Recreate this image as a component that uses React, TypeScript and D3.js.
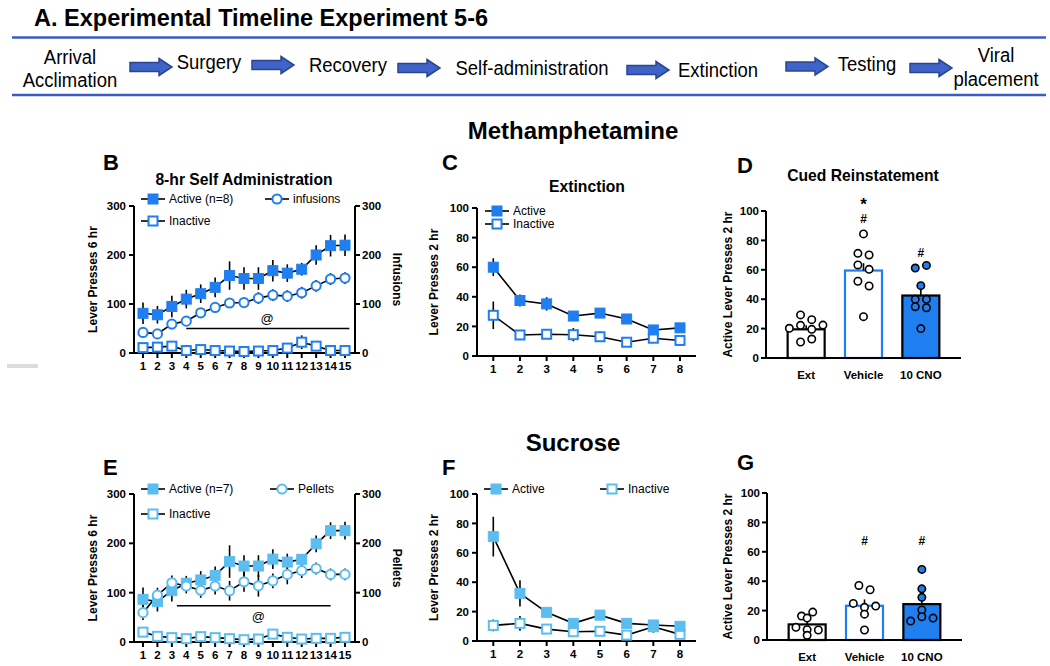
import React from "react";
import * as d3 from "d3";

const FONT = "'Liberation Sans', Arial, Helvetica, sans-serif";
const METH = "#1f7ef0";
const SUC = "#5bbdf0";
const LINE_BLUE = "#3a5cc5";

// ---------- data ----------
const timelineSteps = [["Arrival", "Acclimation"], ["Surgery"], ["Recovery"], ["Self-administration"], ["Extinction"], ["Testing"], ["Viral", "placement"]];

const saDays = [1, 2, 3, 4, 5, 6, 7, 8, 9, 10, 11, 12, 13, 14, 15];
const extDays = [1, 2, 3, 4, 5, 6, 7, 8];
const ticks300 = [0, 100, 200, 300];
const ticks100 = [0, 20, 40, 60, 80, 100];
const groupNames = ["Ext", "Vehicle", "10 CNO"];

// Methamphetamine self-administration
const methActive = [81, 78, 95, 110, 121, 134, 158, 152, 152, 168, 163, 171, 200, 219, 220];
const methActiveErr = [22, 18, 22, 19, 19, 20, 29, 23, 23, 22, 18, 13, 20, 22, 22];
const methInfusions = [42, 39, 59, 65, 82, 93, 102, 103, 112, 118, 116, 123, 137, 151, 153];
const methInfusionsErr = [6, 6, 8, 8, 10, 10, 10, 10, 12, 12, 12, 12, 12, 12, 12];
const methInactive = [11, 12, 14, 5, 7, 5, 4, 3, 4, 5, 10, 22, 14, 5, 5];
const methInactiveErr = [3, 3, 3, 3, 3, 3, 3, 3, 3, 3, 4, 14, 4, 3, 3];
const methAtLine = { from: 4, to: 15.3, level: 50, labelDay: 9.6 };

// Methamphetamine extinction
const methExtActive = [60, 37.5, 35.2, 27, 29, 25, 17.6, 19];
const methExtActiveErr = [6, 4, 4.5, 3, 2, 2, 2, 2];
const methExtInactive = [27.5, 14.2, 14.7, 14.4, 13, 9.3, 12, 10.5];
const methExtInactiveErr = [9.3, 2, 2, 4.5, 3.5, 3, 2, 2];

// Methamphetamine cued reinstatement
const methRExt = [29.3, 26.1, 20.2, 22.2, 19.5, 22.4, 10.9, 12.9];
const methRVeh = [84.4, 71.2, 70.1, 63.3, 60.3, 52.2, 49, 28.1];
const methRCno = [61.2, 63, 49.2, 39.9, 39.9, 34.9, 34.2, 20];
const methRMeans = [19.5, 59.5, 42.5];
const methRSem = [2.7, 5, 6];
const methRStar = ["", "*", ""];
const methRStarLevel = 106;
const methRHash = ["", "#", "#"];
const methRHashLevel = [0, 94.5, 71.4];

// Sucrose self-administration
const sucActive = [86.5, 81.8, 104, 119, 125.7, 135, 163, 154, 154, 168, 162, 167.6, 199, 225.7, 225.7];
const sucActiveErr = [24, 20, 22, 15, 18, 18, 33, 22, 22, 20, 17, 10, 17, 17, 18];
const sucPellets = [59.5, 95, 120, 113.5, 104.7, 113.5, 104, 122, 114, 124, 137, 144.6, 149, 137, 137];
const sucPelletsErr = [15, 15, 15, 15, 15, 17, 20, 20, 22, 15, 20, 15, 12, 12, 12];
const sucInactive = [20, 11.5, 8.8, 6.8, 10.8, 8.8, 6.8, 4.7, 6, 16, 9.5, 6, 7.4, 7.4, 9.5];
const sucInactiveErr = [3, 3, 3, 3, 3, 3, 3, 3, 3, 4, 3, 3, 3, 3, 3];
const sucAtLine = { from: 3.35, to: 14, level: 73.6, labelDay: 9 };

// Sucrose extinction
const sucExtActive = [71, 32.4, 19.5, 12, 17.6, 12, 10.9, 10];
const sucExtActiveErr = [13.5, 9, 2, 2, 3, 2, 2, 2];
const sucExtInactive = [10.6, 12, 8.1, 6.3, 6.6, 4, 9.7, 4.5];
const sucExtInactiveErr = [4, 5, 2, 2, 2, 2, 4, 2];

// Sucrose reinstatement
const sucRExt = [16.3, 19, 14.9, 8.6, 7, 6.8, 3.2];
const sucRVeh = [37.1, 34.2, 24.9, 22.2, 23.1, 17.6, 6.8];
const sucRCno = [48, 34.8, 29, 20.4, 12.9, 15.8, 14.9];
const sucRMeans = [10.6, 23.3, 24.4];
const sucRSem = [2, 4.3, 5.5];
const sucRStar = ["", "", ""];
const sucRStarLevel = 106;
const sucRHash = ["", "#", "#"];
const sucRHashLevel = [0, 67.3, 67.3];

// ---------- helpers ----------
type Shape = "sq" | "circle";

function Marker({ shape, filled, color, x, y }: { shape: Shape; filled: boolean; color: string; x: number; y: number }) {
  if (shape === "sq") {
    const s = filled ? 10 : 9;
    return <rect x={x - s / 2} y={y - s / 2} width={s} height={s} fill={filled ? color : "#fff"} stroke={color} strokeWidth={filled ? 1 : 2} />;
  }
  return <circle cx={x} cy={y} r={4.6} fill={filled ? color : "#fff"} stroke={color} strokeWidth={2} />;
}

interface SeriesDef { values: number[]; errs: number[]; shape: Shape; filled: boolean; color: string }
interface LegendDef { label: string; shape: Shape; filled: boolean; color: string; x: number; y: number }

function LinePanel(p: {
  cats: number[]; x: d3.ScaleLinear<number, number>; y: d3.ScaleLinear<number, number>;
  axisStart: number; axisEnd: number; yTicks: number[];
  rightAxisX?: number; rightLabel?: string; rightLabelX?: number;
  yLabel: string; yLabelX: number; series: SeriesDef[]; legend: LegendDef[];
  atLine?: { from: number; to: number; level: number; labelDay: number }; atAbove?: boolean;
}) {
  const { x, y } = p;
  const yBot = y.range()[0];
  const yTop = y.range()[1];
  const line = d3.line<number>().x((_, i) => x(p.cats[i])).y((d) => y(d));
  const yMid = (yBot + yTop) / 2;
  return (
    <g>
      <line x1={p.axisStart} x2={p.axisStart} y1={yTop} y2={yBot} stroke="#000" strokeWidth={2} />
      {p.yTicks.map((t) => (
        <g key={"yt" + t}>
          <line x1={p.axisStart - 5} x2={p.axisStart} y1={y(t)} y2={y(t)} stroke="#000" strokeWidth={2} />
          <text x={p.axisStart - 8} y={y(t)} dy="0.36em" textAnchor="end" fontSize={11.5} fontWeight="bold">{t}</text>
        </g>
      ))}
      {p.rightAxisX !== undefined && (
        <g>
          <line x1={p.rightAxisX} x2={p.rightAxisX} y1={yTop} y2={yBot} stroke="#000" strokeWidth={2} />
          {p.yTicks.map((t) => (
            <g key={"rt" + t}>
              <line x1={p.rightAxisX!} x2={p.rightAxisX! + 5} y1={y(t)} y2={y(t)} stroke="#000" strokeWidth={2} />
              <text x={p.rightAxisX! + 7} y={y(t)} dy="0.36em" textAnchor="start" fontSize={11.5} fontWeight="bold">{t}</text>
            </g>
          ))}
          <text transform={`translate(${p.rightLabelX},${yMid}) rotate(90)`} textAnchor="middle" fontSize={12} fontWeight="bold">{p.rightLabel}</text>
        </g>
      )}
      <line x1={p.axisStart - 1} x2={p.axisEnd} y1={yBot} y2={yBot} stroke="#000" strokeWidth={2} />
      {p.cats.map((c) => (
        <g key={"xt" + c}>
          <line x1={x(c)} x2={x(c)} y1={yBot} y2={yBot + 5} stroke="#000" strokeWidth={2} />
          <text x={x(c)} y={yBot + 17} textAnchor="middle" fontSize={11.5} fontWeight="bold">{c}</text>
        </g>
      ))}
      <text transform={`translate(${p.yLabelX},${yMid}) rotate(-90)`} textAnchor="middle" fontSize={12} fontWeight="bold">{p.yLabel}</text>
      {p.atLine && (
        <g>
          <line x1={x(p.atLine.from)} x2={x(p.atLine.to)} y1={y(p.atLine.level)} y2={y(p.atLine.level)} stroke="#000" strokeWidth={1.6} />
          <text x={x(p.atLine.labelDay)} y={y(p.atLine.level) + (p.atAbove ? -6 : 15)} textAnchor="middle" fontSize={13}>@</text>
        </g>
      )}
      {p.series.map((s, si) => (
        <g key={"s" + si}>
          {s.values.map((v, i) => (
            <line key={"e" + i} x1={x(p.cats[i])} x2={x(p.cats[i])} y1={y(Math.max(0, v - s.errs[i]))} y2={y(v + s.errs[i])} stroke="#000" strokeWidth={1.6} />
          ))}
          <path d={line(s.values) || ""} fill="none" stroke="#000" strokeWidth={1.6} />
        </g>
      ))}
      {p.series.map((s, si) => (
        <g key={"m" + si}>
          {s.values.map((v, i) => (
            <Marker key={i} shape={s.shape} filled={s.filled} color={s.color} x={x(p.cats[i])} y={y(v)} />
          ))}
        </g>
      ))}
      {p.legend.map((l, i) => (
        <g key={"l" + i}>
          <line x1={l.x - 12} x2={l.x + 12} y1={l.y} y2={l.y} stroke="#000" strokeWidth={1.6} />
          <Marker shape={l.shape} filled={l.filled} color={l.color} x={l.x} y={l.y} />
          <text x={l.x + 16} y={l.y} dy="0.36em" fontSize={12}>{l.label}</text>
        </g>
      ))}
    </g>
  );
}

// symmetric row-based scatter layout (GraphPad-like)
function swarmOffsets(vals: number[], thr: number, spacing: number): number[] {
  const idx = vals.map((_, i) => i).sort((a, b) => vals[b] - vals[a]);
  const out = new Array(vals.length).fill(0);
  let i = 0;
  while (i < idx.length) {
    const row = [idx[i]];
    let j = i + 1;
    while (j < idx.length && vals[idx[i]] - vals[idx[j]] < thr) { row.push(idx[j]); j++; }
    row.sort((a, b) => a - b);
    row.forEach((k, r) => { out[k] = (r - (row.length - 1) / 2) * spacing; });
    i = j;
  }
  return out;
}

function BarPanel(p: {
  y: d3.ScaleLinear<number, number>; axisStart: number; axisEnd: number;
  points: number[][]; means: number[]; sems: number[];
  star: string[]; starLevel: number; hash: string[]; hashLevel: number[];
  yLabelX: number; barStroke: string[]; barFill: string[]; dotFill: string[];
}) {
  const { y } = p;
  const yBot = y.range()[0];
  const yTop = y.range()[1];
  const x = d3.scalePoint<string>().domain(groupNames).range([p.axisStart, p.axisEnd]).padding(0.7);
  const bw = 37;
  return (
    <g>
      {groupNames.map((g, gi) => {
        const cx = x(g)!;
        const offs = swarmOffsets(p.points[gi], 4, 11.2);
        return (
          <g key={g}>
            <rect x={cx - bw / 2} y={y(p.means[gi])} width={bw} height={yBot - y(p.means[gi])} fill={p.barFill[gi]} stroke={p.barStroke[gi]} strokeWidth={2.2} />
            <line x1={cx} x2={cx} y1={y(p.means[gi])} y2={y(p.means[gi] + p.sems[gi])} stroke="#000" strokeWidth={1.6} />
            {p.points[gi].map((v, i) => (
              <circle key={i} cx={cx + offs[i]} cy={y(v)} r={3.7} fill={p.dotFill[gi]} stroke="#000" strokeWidth={1.6} />
            ))}
            {p.star[gi] && <text x={cx} y={y(p.starLevel) + 8} textAnchor="middle" fontSize={17} fontWeight="bold">{p.star[gi]}</text>}
            {p.hash[gi] && <text x={cx} y={y(p.hashLevel[gi])} dy="0.36em" textAnchor="middle" fontSize={12} fontWeight="bold">{p.hash[gi]}</text>}
            <text x={cx} y={yBot + 21} textAnchor="middle" fontSize={11.5} fontWeight="bold">{g}</text>
          </g>
        );
      })}
      <line x1={p.axisStart} x2={p.axisStart} y1={yTop} y2={yBot} stroke="#000" strokeWidth={2} />
      <line x1={p.axisStart - 1} x2={p.axisEnd} y1={yBot} y2={yBot} stroke="#000" strokeWidth={2} />
      {ticks100.map((t) => (
        <g key={t}>
          <line x1={p.axisStart - 5} x2={p.axisStart} y1={y(t)} y2={y(t)} stroke="#000" strokeWidth={2} />
          <text x={p.axisStart - 7} y={y(t)} dy="0.36em" textAnchor="end" fontSize={11.5} fontWeight="bold">{t}</text>
        </g>
      ))}
      <text transform={`translate(${p.yLabelX},${(yTop + yBot) / 2}) rotate(-90)`} textAnchor="middle" fontSize={12} fontWeight="bold">Active Lever Presses 2 hr</text>
    </g>
  );
}

function Arrow({ x, y }: { x: number; y: number }) {
  const L = 42, hl = 13, bh = 4.5, hh = 8.5;
  const d = `M${x},${y - bh}L${x + L - hl},${y - bh}L${x + L - hl},${y - hh}L${x + L},${y}L${x + L - hl},${y + hh}L${x + L - hl},${y + bh}L${x},${y + bh}Z`;
  return <path d={d} fill="#3f63c6" stroke="#2a4690" strokeWidth={1.5} />;
}

const tlText = [
  { x: 70, ys: [64, 87] }, { x: 209, ys: [69] }, { x: 348, ys: [72] }, { x: 532, ys: [75] },
  { x: 718, ys: [77] }, { x: 867, ys: [71] }, { x: 996, ys: [62, 86] },
];
const tlArrows = [[130, 67], [252, 65], [398, 68], [627, 70], [786, 66.5], [910, 68]];

function Timeline() {
  return (
    <g>
      <text x={34} y={26} fontSize={23.5} fontWeight="bold">A. Experimental Timeline Experiment 5-6</text>
      <line x1={12} x2={1046} y1={37.5} y2={37.5} stroke={LINE_BLUE} strokeWidth={2.5} />
      <line x1={12} x2={1046} y1={95} y2={95} stroke={LINE_BLUE} strokeWidth={2.5} />
      {timelineSteps.map((lines, i) => (
        <g key={i}>
          {lines.map((t, j) => (
            <text key={j} transform={`translate(${tlText[i].x},${tlText[i].ys[j]}) scale(0.88,1)`} textAnchor="middle" fontSize={21}>{t}</text>
          ))}
        </g>
      ))}
      {tlArrows.map(([x, y], i) => <Arrow key={i} x={x} y={y} />)}
    </g>
  );
}

export default function App() {
  const xSA = d3.scaleLinear().domain([1, 15]).range([143, 345]);
  const yB = d3.scaleLinear().domain([0, 300]).range([353, 206]);
  const yE = d3.scaleLinear().domain([0, 300]).range([642, 494]);
  const xExt = d3.scaleLinear().domain([1, 8]).range([493.3, 680]);
  const yC = d3.scaleLinear().domain([0, 100]).range([356, 208]);
  const yF = d3.scaleLinear().domain([0, 100]).range([641, 494]);
  const yD = d3.scaleLinear().domain([0, 100]).range([358, 211]);
  const yG = d3.scaleLinear().domain([0, 100]).range([640, 493]);

  return (
    <svg width={1050} height={666} style={{ position: "absolute", left: 0, top: 0, background: "#fff" }} fontFamily={FONT}>
      <rect width={1050} height={666} fill="#fff" />
      <Timeline />
      <text x={573} y={139} textAnchor="middle" fontSize={24} fontWeight="bold">Methamphetamine</text>
      <text x={573} y={451} textAnchor="middle" fontSize={24} fontWeight="bold">Sucrose</text>

      <text x={103} y={170} fontSize={22} fontWeight="bold">B</text>
      <text x={442} y={170} fontSize={22} fontWeight="bold">C</text>
      <text x={737} y={173} fontSize={22} fontWeight="bold">D</text>
      <text x={103} y={475} fontSize={22} fontWeight="bold">E</text>
      <text x={442} y={475} fontSize={22} fontWeight="bold">F</text>
      <text x={737} y={470} fontSize={22} fontWeight="bold">G</text>

      <text x={244} y={185} textAnchor="middle" fontSize={15.7} fontWeight="bold">8-hr Self Administration</text>
      <text x={587} y={192} textAnchor="middle" fontSize={15.7} fontWeight="bold">Extinction</text>
      <text x={863} y={181} textAnchor="middle" fontSize={15.7} fontWeight="bold">Cued Reinstatement</text>

      <line x1={7} x2={38} y1={365} y2={365} stroke="#b8b8b8" strokeWidth={1} />
      <line x1={7} x2={38} y1={367} y2={367} stroke="#b8b8b8" strokeWidth={1} />

      <LinePanel cats={saDays} x={xSA} y={yB} axisStart={134} axisEnd={355} yTicks={ticks300}
        rightAxisX={355} rightLabel="Infusions" rightLabelX={393} yLabel="Lever Presses 6 hr" yLabelX={97}
        atLine={methAtLine} atAbove={true}
        series={[
          { values: methInactive, errs: methInactiveErr, shape: "sq", filled: false, color: METH },
          { values: methInfusions, errs: methInfusionsErr, shape: "circle", filled: false, color: METH },
          { values: methActive, errs: methActiveErr, shape: "sq", filled: true, color: METH },
        ]}
        legend={[
          { label: "Active (n=8)", shape: "sq", filled: true, color: METH, x: 153, y: 199 },
          { label: "infusions", shape: "circle", filled: false, color: METH, x: 277, y: 199 },
          { label: "Inactive", shape: "sq", filled: false, color: METH, x: 153, y: 221 },
        ]} />

      <LinePanel cats={saDays} x={xSA} y={yE} axisStart={134} axisEnd={355} yTicks={ticks300}
        rightAxisX={355} rightLabel="Pellets" rightLabelX={393} yLabel="Lever Presses 6 hr" yLabelX={97}
        atLine={sucAtLine} atAbove={false}
        series={[
          { values: sucInactive, errs: sucInactiveErr, shape: "sq", filled: false, color: SUC },
          { values: sucActive, errs: sucActiveErr, shape: "sq", filled: true, color: SUC },
          { values: sucPellets, errs: sucPelletsErr, shape: "circle", filled: false, color: SUC },
        ]}
        legend={[
          { label: "Active (n=7)", shape: "sq", filled: true, color: SUC, x: 153, y: 489 },
          { label: "Pellets", shape: "circle", filled: false, color: SUC, x: 282, y: 489 },
          { label: "Inactive", shape: "sq", filled: false, color: SUC, x: 153, y: 514 },
        ]} />

      <LinePanel cats={extDays} x={xExt} y={yC} axisStart={477} axisEnd={696} yTicks={ticks100}
        yLabel="Lever Presses 2 hr" yLabelX={438}
        series={[
          { values: methExtInactive, errs: methExtInactiveErr, shape: "sq", filled: false, color: METH },
          { values: methExtActive, errs: methExtActiveErr, shape: "sq", filled: true, color: METH },
        ]}
        legend={[
          { label: "Active", shape: "sq", filled: true, color: METH, x: 497, y: 211 },
          { label: "Inactive", shape: "sq", filled: false, color: METH, x: 497, y: 224 },
        ]} />

      <LinePanel cats={extDays} x={xExt} y={yF} axisStart={477} axisEnd={696} yTicks={ticks100}
        yLabel="Lever Presses 2 hr" yLabelX={438}
        series={[
          { values: sucExtInactive, errs: sucExtInactiveErr, shape: "sq", filled: false, color: SUC },
          { values: sucExtActive, errs: sucExtActiveErr, shape: "sq", filled: true, color: SUC },
        ]}
        legend={[
          { label: "Active", shape: "sq", filled: true, color: SUC, x: 496, y: 489 },
          { label: "Inactive", shape: "sq", filled: false, color: SUC, x: 612, y: 489 },
        ]} />

      <BarPanel y={yD} axisStart={766} axisEnd={961} points={[methRExt, methRVeh, methRCno]}
        means={methRMeans} sems={methRSem} star={methRStar} starLevel={methRStarLevel}
        hash={methRHash} hashLevel={methRHashLevel} yLabelX={732}
        barStroke={["#000", METH, "#000"]} barFill={["#fff", "#fff", METH]} dotFill={["#fff", "#fff", METH]} />
      <BarPanel y={yG} axisStart={767} axisEnd={962} points={[sucRExt, sucRVeh, sucRCno]}
        means={sucRMeans} sems={sucRSem} star={sucRStar} starLevel={sucRStarLevel}
        hash={sucRHash} hashLevel={sucRHashLevel} yLabelX={732}
        barStroke={["#000", METH, "#000"]} barFill={["#fff", "#fff", METH]} dotFill={["#fff", "#fff", METH]} />
    </svg>
  );
}
